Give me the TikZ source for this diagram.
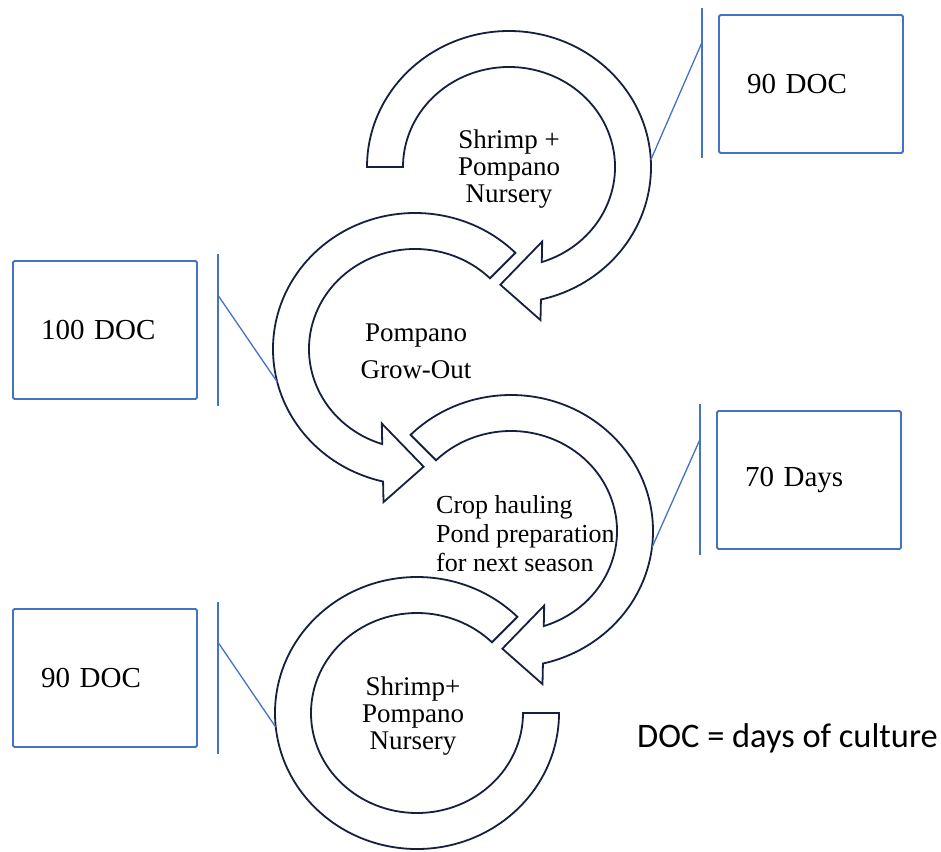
\documentclass[tikz,border=0pt]{standalone}
\usepackage{fontspec}
\setmainfont{Liberation Serif}
\newfontfamily\notefont{Carlito}
\usetikzlibrary{positioning,calc}
\definecolor{arrowline}{RGB}{22,32,62}
\definecolor{boxblue}{RGB}{68,114,196}
\tikzset{
  band/.style={draw=arrowline, fill=white, line width=1.8pt},
  daybox/.style={draw=boxblue, line width=1.8pt, rounded corners=1.5pt,
    minimum width=184pt, minimum height=138pt, text width=128pt,
    inner xsep=28pt, align=left, font=\fontsize{29}{29}\selectfont},
  accent/.style={draw=boxblue, line width=1.8pt},
  lead/.style={draw=boxblue, line width=1.3pt},
  stage/.style={align=center, inner sep=0pt, font=\fontsize{27}{27}\selectfont}
}
% center, start, inner end, outer end, tip
\newcommand\stagearrow[5]{%
  \coordinate (ie) at ($(#1)+(#3:106 and 100)$);
  \coordinate (oe) at ($(#1)+(#4:142 and 136)$);
  \draw[band] ($(#1)+(#2:142 and 136)$)
    arc[start angle=#2, end angle=#4, x radius=142, y radius=136]
    -- ($(oe)!-0.55!(ie)$) -- ($(#1)+(#5:124 and 118)$)
    -- ($(ie)!-0.55!(oe)$) -- (ie)
    arc[start angle=#3, end angle=#2, x radius=106, y radius=100] -- cycle;
}

\begin{document}
\begin{tikzpicture}[x=1pt, y=-1pt]
   \useasboundingbox (0,0) rectangle (941,851);

   \coordinate (c1) at (509,167);
   \coordinate[below left=182pt and 94pt of c1] (c2);
   \coordinate[below right=182pt and 96pt of c2] (c3);
   \coordinate[below left=182pt and 94pt of c3] (c4);

   \stagearrow{c1}{180}{432}{437}{454}
   \stagearrow{c2}{315}{108}{103}{86}
   \stagearrow{c3}{225}{432}{437}{454}
   \draw[band] ($(c4)+(315:142 and 136)$)
      arc[start angle=315, end angle=0, x radius=142, y radius=136]
      -- ($(c4)+(0:106 and 100)$)
      arc[start angle=0, end angle=315, x radius=106, y radius=100] -- cycle;

   \node[daybox] (doc1) at (811,84) {90 DOC};
   \node[daybox] (doc2) at (105,330) {100 DOC};
   \node[daybox] (days) at (809,480) {70 Days};
   \node[daybox] (doc3) at (105,678) {90 DOC};

   \draw[accent] ($(doc1.north west)+(-16,-6)$) -- ($(doc1.south west)+(-16,4)$);
   \draw[accent] ($(doc2.north east)+(20,-6)$) -- ($(doc2.south east)+(20,6)$);
   \draw[accent] ($(days.north west)+(-16,-6)$) -- ($(days.south west)+(-16,5)$);
   \draw[accent] ($(doc3.north east)+(20,-6)$) -- ($(doc3.south east)+(20,6)$);

   \coordinate (h1) at ($(doc1.north west)+(-16,28)$);
   \coordinate (h2) at ($(doc2.north east)+(20,35)$);
   \coordinate (h3) at ($(days.north west)+(-16,29)$);
   \coordinate (h4) at ($(doc3.north east)+(20,34)$);
   \coordinate (e1) at ($(c1)+(357:142 and 136)$);
   \coordinate (e2) at ($(c2)+(166:142 and 136)$);
   \coordinate (e3) at ($(c3)+(7:142 and 136)$);
   \coordinate (e4) at ($(c4)+(174:142 and 136)$);
   \draw[lead] (h1) -- (e1);
   \draw[lead] (h2) -- (e2);
   \draw[lead] (h3) -- (e3);
   \draw[lead] (h4) -- (e4);

   \node[stage] (nurs1) at (509,169) {Shrimp +\\Pompano\\Nursery};
   \node[stage, font=\fontsize{27}{37}\selectfont] (grow) at (416,351) {Pompano\\Grow-Out};
   \node[stage, align=left, anchor=west, font=\fontsize{26}{29}\selectfont] (haul)
      at (436,534) {Crop hauling\\Pond preparation\\for next season};
   \node[stage] (nurs2) at (413,716) {Shrimp+\\Pompano\\Nursery};
   \node[inner sep=0pt, anchor=west, font=\notefont\fontsize{34.4}{34.4}\selectfont] (note)
      at (637,738) {DOC = days of culture};
\end{tikzpicture}
\end{document}
